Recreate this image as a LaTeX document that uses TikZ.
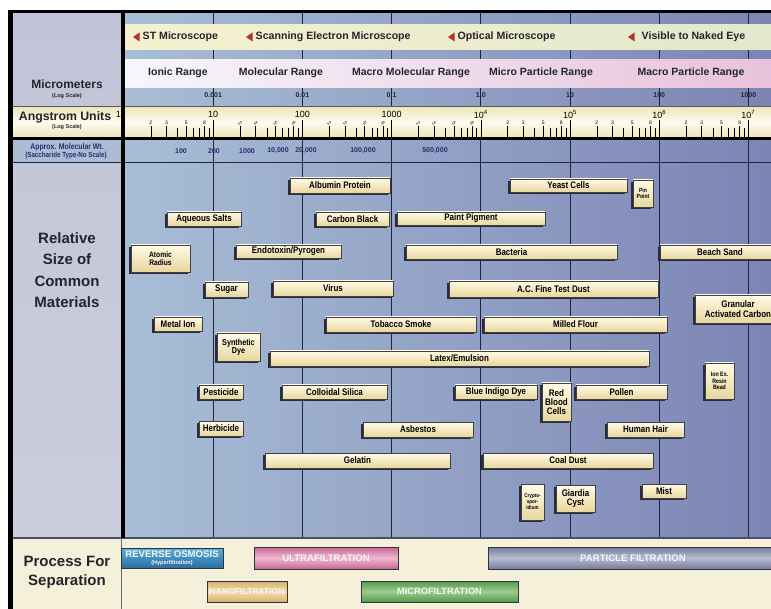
\documentclass[tikz,border=0pt]{standalone}
\usepackage{fontspec}
\setmainfont{Liberation Sans}
\newfontfamily\cnd[FakeStretch=0.84]{Liberation Sans}
\usetikzlibrary{shadows}
\definecolor{gridc}{RGB}{28,36,64}
\definecolor{bgL}{RGB}{168,190,214}
\definecolor{bgR}{RGB}{124,132,180}
\definecolor{colT}{RGB}{192,196,214}
\definecolor{colc}{RGB}{204,206,220}
\definecolor{mwrow}{RGB}{172,188,212}
\definecolor{micL}{RGB}{245,241,207}
\definecolor{micR}{RGB}{226,232,204}
\definecolor{rngL}{RGB}{246,246,251}
\definecolor{rngR}{RGB}{232,194,220}
\definecolor{angT}{RGB}{238,230,186}
\definecolor{angM}{RGB}{253,251,238}
\definecolor{procc}{RGB}{244,240,218}
\definecolor{matT}{RGB}{255,251,230}
\definecolor{matB}{RGB}{232,214,158}
\definecolor{shad}{RGB}{40,44,62}
\definecolor{arrc}{RGB}{178,52,42}
\definecolor{mwc}{RGB}{36,46,110}
\definecolor{txtc}{RGB}{36,36,44}
\definecolor{roE}{RGB}{40,110,160}
\definecolor{roM}{RGB}{90,175,220}
\definecolor{ufE}{RGB}{196,104,148}
\definecolor{ufM}{RGB}{242,182,210}
\definecolor{nfE}{RGB}{214,176,112}
\definecolor{nfM}{RGB}{244,222,172}
\definecolor{mfE}{RGB}{84,150,76}
\definecolor{mfM}{RGB}{156,206,142}
\definecolor{pfE}{RGB}{116,122,156}
\definecolor{pfM}{RGB}{184,188,210}
\tikzset{
  mat/.style={draw=black!75, line width=0.5pt, top color=matT, bottom color=matB,
    inner sep=0.5pt, align=center, text=black,
    font=\cnd\bfseries\fontsize{9.5}{9.5}\selectfont,
    drop shadow={shadow xshift=-2.2pt, shadow yshift=-2.2pt, fill=shad, opacity=1}},
  tiny/.style={font=\cnd\bfseries\fontsize{6}{6.2}\selectfont},
  small/.style={font=\cnd\bfseries\fontsize{8}{8.2}\selectfont},
  proc/.style={draw=black!80, line width=0.8pt, inner sep=0, align=center,
    text=white!92!gray, font=\bfseries\fontsize{9.6}{9.6}\selectfont},
  gline/.style={draw=gridc, line width=0.9pt},
  mic/.style={anchor=west, inner sep=0, text=txtc, font=\bfseries\fontsize{10.6}{11}\selectfont},
  rng/.style={inner sep=0, text=txtc, font=\bfseries\fontsize{10.5}{11}\selectfont},
  um/.style={inner sep=0, text=txtc, font=\bfseries\fontsize{7}{7}\selectfont},
  declab/.style={inner sep=0, text=black, font=\fontsize{9}{9}\selectfont},
  mlab/.style={inner sep=0, text=black, font=\fontsize{5}{5}\selectfont},
  mw/.style={inner sep=0, text=mwc, font=\bfseries\fontsize{7}{7}\selectfont},
  head/.style={inner sep=0, align=center, text=txtc, font=\bfseries\fontsize{15}{21.5}\selectfont},
  tickl/.style={draw=black, line width=0.6pt},
}
\newcommand\matb[6]{\node[mat,minimum width={(#4-#2)*1pt},minimum height={(#5-#3)*1pt}] (#1) at ({(#2+#4)/2},{(#3+#5)/2}) {#6};}
\begin{document}
\begin{tikzpicture}[x=1pt,y=-1pt]
\useasboundingbox (0,0) rectangle (771,609);
\clip (0,0) rectangle (771,609);
\fill[white] (0,0) rectangle (771,609);
% backgrounds
\shade[left color=bgL, right color=bgR] (124,13) rectangle (771,538);
\shade[top color=colT, bottom color=colc] (13,13) rectangle (121,538);
\fill[mwrow] (13,140) rectangle (121,162);
% grid lines
\foreach \k in {1,...,7}{
  \draw[gline] ({124+89.2*\k},13) -- ({124+89.2*\k},538);
}
% microscope band
\shade[left color=micL, right color=micR] (124,25) rectangle (771,50);
\fill[arrc] (133,37) -- (139.5,32.5) -- (139.5,41.5) -- cycle;
\node[mic] (stm) at (142.5,37) {ST Microscope};
\fill[arrc] (246,37) -- (252.5,32.5) -- (252.5,41.5) -- cycle;
\node[mic] (sem) at (255.5,37) {Scanning Electron Microscope};
\fill[arrc] (448,37) -- (454.5,32.5) -- (454.5,41.5) -- cycle;
\node[mic] (opt) at (457.5,37) {Optical Microscope};
\fill[arrc] (628,37) -- (634.5,32.5) -- (634.5,41.5) -- cycle;
\node[mic] (vis) at (641.5,37) {Visible to Naked Eye};
% range band
\shade[left color=rngL, right color=rngR] (124,60) rectangle (771,88);
\node[rng] (r1) at (178,73) {Ionic Range};
\node[rng] (r2) at (281,73) {Molecular Range};
\node[rng] (r3) at (411,73) {Macro Molecular Range};
\node[rng] (r4) at (541,73) {Micro Particle Range};
\node[rng] (r5) at (691,73) {Macro Particle Range};
% micrometers
\foreach \k/\v in {1/0.001,2/0.01,3/0.1,4/1.0,5/10,6/100,7/1000}{
  \node[um] (um\k) at ({124+89.2*\k},95) {\v};
}
% angstrom band
\shade[top color=angT, bottom color=angT, middle color=angM] (13,107) rectangle (771,137);
\draw[gray!70!black, line width=0.6pt] (13,106.5) -- (771,106.5);
\fill[black] (13,137) rectangle (771,140.2);
\foreach \k/\v in {1/10,2/100,3/1000,4/10\textsuperscript{4},5/10\textsuperscript{5},6/10\textsuperscript{6},7/10\textsuperscript{7}}{
  \node[declab] (ang\k) at ({124+89.2*\k},114.5) {\v};
  \draw[tickl] ({124+89.2*\k},120) -- ({124+89.2*\k},137);
}
\node[declab] (ang0) at (118.5,114.5) {1};
\foreach \k in {0,...,7}{
  \foreach \m in {4,6,7,9}{
    \draw[tickl] ({124+89.2*\k+89.2*log10(\m)},128.5) -- ({124+89.2*\k+89.2*log10(\m)},137);
  }
  \foreach \m in {2,3,5,8}{
    \draw[tickl] ({124+89.2*\k+89.2*log10(\m)},126.5) -- ({124+89.2*\k+89.2*log10(\m)},137);
  }
}
\foreach \k in {0,4,5,6}{
  \foreach \m in {2,3,5,8}{
    \node[mlab] at ({124+89.2*\k+89.2*log10(\m)},123) {\m};
  }
}
\foreach \k in {1,2,3}{
  \foreach \m in {2,3,5,8}{
    \node[mlab,rotate=-45] at ({124+89.2*\k+89.2*log10(\m)},123) {\m};
  }
}
% left column labels
\node[inner sep=0, text=txtc, font=\bfseries\fontsize{12}{12}\selectfont] (lmic) at (67,84) {Micrometers};
\node[inner sep=0, text=txtc, font=\bfseries\fontsize{5.5}{5.5}\selectfont] (lmic2) at (67,96) {(Log Scale)};
\node[inner sep=0, text=txtc, font=\bfseries\fontsize{12.3}{12.3}\selectfont] (lang) at (65,117) {Angstrom Units};
\node[inner sep=0, text=txtc, font=\bfseries\fontsize{5.5}{5.5}\selectfont] (lang2) at (67,127.5) {(Log Scale)};
\node[inner sep=0, text=mwc, font=\cnd\bfseries\fontsize{8.2}{8.2}\selectfont] (lmw) at (67,147) {Approx. Molecular Wt.};
\node[inner sep=0, text=mwc, font=\cnd\bfseries\fontsize{7.4}{7.4}\selectfont] (lmw2) at (66,155.5) {(Saccharide Type-No Scale)};
% molecular weights
\node[mw] (w1) at (181,151) {100};
\node[mw] (w2) at (214,151) {200};
\node[mw] (w3) at (247,151) {1000};
\node[mw] (w4) at (278,151) {10,000};
\node[mw] (w5) at (306,151) {20,000};
\node[mw] (w6) at (363,151) {100,000};
\node[mw] (w7) at (435,151) {500,000};
\draw[gridc, line width=0.8pt] (13,162) -- (771,162);
\node[head] (lrel) at (67,270) {Relative\\Size of\\Common\\Materials};
% materials
\matb{albumin}{290}{178}{390}{193}{Albumin Protein}
\matb{yeast}{510}{179}{627}{192}{Yeast Cells}
\matb{aqueous}{167}{212}{241}{226}{Aqueous Salts}
\matb{carbon}{316}{212}{389}{226}{Carbon Black}
\matb{paint}{397}{212}{545}{225}{Paint Pigment}
\matb{endotoxin}{236}{245}{341}{258}{Endotoxin/Pyrogen}
\matb{bacteria}{406}{245}{617}{259}{Bacteria}
\matb{beach}{660}{245}{780}{259}{Beach Sand}
\matb{sugar}{205}{282}{248}{297}{Sugar}
\matb{virus}{273}{281}{393}{296}{Virus}
\matb{acdust}{449}{281}{658}{297}{A.C. Fine Test Dust}
\matb{granular}{695}{295}{781}{323}{Granular\\Activated Carbon}
\matb{metal}{154}{317}{202}{331}{Metal Ion}
\matb{tobacco}{326}{317}{476}{332}{Tobacco Smoke}
\matb{milled}{484}{317}{667}{332}{Milled Flour}
\matb{latex}{270}{351}{649}{366}{Latex/Emulsion}
\matb{pesticide}{199}{385}{243}{399}{Pesticide}
\matb{colloidal}{282}{385}{387}{399}{Colloidal Silica}
\matb{blueindigo}{455}{385}{537}{399}{Blue Indigo Dye}
\matb{pollen}{576}{385}{667}{399}{Pollen}
\matb{herbicide}{199}{421}{243}{436}{Herbicide}
\matb{asbestos}{363}{422}{473}{437}{Asbestos}
\matb{hair}{607}{422}{684}{437}{Human Hair}
\matb{gelatin}{265}{453}{450}{468}{Gelatin}
\matb{coal}{483}{453}{653}{468}{Coal Dust}
\matb{giardia}{556}{485}{595}{512}{Giardia\\Cyst}
\matb{mist}{642}{484}{686}{498}{Mist}
\node[mat,small,minimum width=59pt,minimum height=27pt] (atomic) at (160.5,258.5) {Atomic\\Radius};
\node[mat,font=\cnd\bfseries\fontsize{8.6}{8.4}\selectfont,minimum width=43pt,minimum height=28pt] (synth) at (238.5,347) {Synthetic\\Dye};
\node[mat,tiny,minimum width=20pt,minimum height=27pt] (pinpoint) at (643,193.5) {Pin\\Point};
\node[mat,font=\cnd\bfseries\fontsize{6.3}{6.3}\selectfont,minimum width=29pt,minimum height=36pt] (ionex) at (719.5,381) {Ion Ex.\\Resin\\Bead};
\node[mat,font=\cnd\bfseries\fontsize{9.5}{9.2}\selectfont,minimum width=29pt,minimum height=38pt] (rbc) at (556.5,402) {Red\\Blood\\Cells};
\node[mat,font=\cnd\bfseries\fontsize{5.4}{6}\selectfont,minimum width=23pt,minimum height=36pt] (crypto) at (532.5,502) {Crypto-\\spor-\\idium};
% process band
\fill[procc] (13,538) rectangle (771,609);
\draw[gray!80!black, line width=0.5pt] (121,538) -- (121,609);
\draw[gridc!80, line width=1.6pt] (13,538) -- (771,538);
\node[head, font=\bfseries\fontsize{15}{19}\selectfont] (lproc) at (67,572.5) {Process For\\Separation};
\node[proc, top color=roM, bottom color=roE, minimum width=102pt, minimum height=20pt, font=\bfseries\fontsize{9.6}{8}\selectfont] (ro) at (172,558) {REVERSE OSMOSIS\\[-1pt]{\fontsize{5.5}{5.5}\selectfont(Hyperfiltration)}};
\node[proc, top color=ufE, bottom color=ufE, middle color=ufM, minimum width=144pt, minimum height=22pt] (uf) at (326,558) {ULTRAFILTRATION};
\node[proc, top color=nfE, bottom color=nfE, middle color=nfM, minimum width=80pt, minimum height=21pt, font=\bfseries\fontsize{8.6}{8.6}\selectfont] (nf) at (247,591.5) {NANOFILTRATION};
\node[proc, top color=mfE, bottom color=mfE, middle color=mfM, minimum width=157pt, minimum height=21pt, font=\bfseries\fontsize{9.3}{9.3}\selectfont] (mf) at (439.5,591.5) {MICROFILTRATION};
\node[proc, top color=pfE, bottom color=pfE, middle color=pfM, minimum width=290pt, minimum height=22pt] (pf) at (633,558) {PARTICLE FILTRATION};
% borders
\fill[black] (8,10) rectangle (771,13);
\fill[black] (8,10) rectangle (13,609);
\fill[black] (121,13) rectangle (124.5,538);
\end{tikzpicture}
\end{document}
